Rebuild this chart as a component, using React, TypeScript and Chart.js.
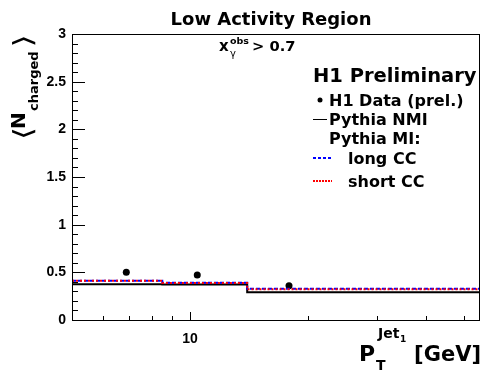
import React, { useEffect, useRef } from 'react';
import { Chart, registerables } from 'chart.js';
Chart.register(...registerables);

// ---- data ----
const binEdges = [5, 8.5, 14, 55];
const nmiValues = [0.374, 0.372, 0.292];
const longCCValues = [0.412, 0.391, 0.328];
const shortCCValues = [0.411, 0.389, 0.322];
const dataX = [6.88, 10.44, 17.9];
const dataY = [0.5, 0.472, 0.36];
const xLabelTicks = [10];
const xMinorTicks = [6, 7, 8, 9, 20, 30, 40, 50];
const yLabelTicks = [0, 0.5, 1, 1.5, 2, 2.5, 3];
const yMinorTicks = [0.1, 0.2, 0.3, 0.4, 0.6, 0.7, 0.8, 0.9, 1.1, 1.2, 1.3, 1.4, 1.6, 1.7, 1.8, 1.9, 2.1, 2.2, 2.3, 2.4, 2.6, 2.7, 2.8, 2.9];

const TICKFONT = '"Liberation Sans", Arial, Helvetica, sans-serif';
const FONT = '"DejaVu Sans", "Liberation Sans", sans-serif';

function stepPoints(values: number[]) {
  const pts = values.map((v, i) => ({ x: binEdges[i], y: v }));
  pts.push({ x: binEdges[binEdges.length - 1], y: values[values.length - 1] });
  return pts;
}

function text(ctx: any, s: string, x: number, y: number, size: number, align: CanvasTextAlign = 'left', weight = 'bold') {
  ctx.font = `${weight} ${size}px ${FONT}`;
  ctx.textAlign = align;
  ctx.textBaseline = 'alphabetic';
  ctx.fillStyle = '#000';
  ctx.fillText(s, x, y);
}

// draw a glyph stretched into a box (u0,v0,w,h) of the current frame
function boxGlyph(ctx: any, s: string, u0: number, v0: number, w: number, h: number) {
  ctx.font = `normal 24px ${FONT}`;
  ctx.textAlign = 'left';
  ctx.textBaseline = 'alphabetic';
  const m = ctx.measureText(s);
  const gw = m.actualBoundingBoxRight + m.actualBoundingBoxLeft;
  const gh = m.actualBoundingBoxAscent + m.actualBoundingBoxDescent;
  ctx.save();
  ctx.translate(u0, v0);
  ctx.scale(w / gw, h / gh);
  ctx.fillStyle = '#000';
  ctx.fillText(s, m.actualBoundingBoxLeft, m.actualBoundingBoxAscent);
  ctx.restore();
}

const decorPlugin = {
  id: 'decor',
  afterDatasetsDraw(chart: any) {
    const ctx = chart.ctx;
    const { left, right, top, bottom } = chart.chartArea;
    const xs = chart.scales.x;
    const ys = chart.scales.y;
    ctx.save();
    ctx.strokeStyle = '#000';
    ctx.lineWidth = 1;
    ctx.strokeRect(Math.round(left) + 0.5, Math.round(top) + 0.5, Math.round(right - left) - 1, Math.round(bottom - top));
    ctx.beginPath();
    yLabelTicks.forEach((v) => {
      const p = Math.round(ys.getPixelForValue(v)) + 0.5;
      ctx.moveTo(left, p); ctx.lineTo(left + 13, p);
    });
    yMinorTicks.forEach((v) => {
      const p = Math.round(ys.getPixelForValue(v)) + 0.5;
      ctx.moveTo(left, p); ctx.lineTo(left + 6, p);
    });
    xLabelTicks.forEach((v) => {
      const p = Math.round(xs.getPixelForValue(v)) + 0.5;
      ctx.moveTo(p, bottom); ctx.lineTo(p, bottom - 8);
    });
    xMinorTicks.forEach((v) => {
      const p = Math.round(xs.getPixelForValue(v)) + 0.5;
      ctx.moveTo(p, bottom); ctx.lineTo(p, bottom - 4);
    });
    ctx.stroke();
    ctx.restore();
  },
  afterDraw(chart: any) {
    const ctx = chart.ctx;
    ctx.save();
    // title
    text(ctx, 'Low Activity Region', 271, 25, 18, 'center');
    // x_gamma^obs > 0.7
    text(ctx, 'x', 219, 51, 15);
    text(ctx, 'obs', 230, 44, 9.5);
    text(ctx, 'γ', 230, 57, 10, 'left', 'normal');
    text(ctx, '> 0.7', 252, 51, 14.7);
    // legend header
    text(ctx, 'H1 Preliminary', 313, 82, 19.5);
    // legend entries
    ctx.fillStyle = '#000';
    ctx.beginPath();
    ctx.arc(320, 100, 2.5, 0, Math.PI * 2);
    ctx.fill();
    text(ctx, 'H1 Data (prel.)', 329, 106, 16);
    ctx.strokeStyle = '#000';
    ctx.lineWidth = 1;
    ctx.beginPath(); ctx.moveTo(313, 119.5); ctx.lineTo(327, 119.5); ctx.stroke();
    text(ctx, 'Pythia NMI', 329, 125, 16);
    text(ctx, 'Pythia MI:', 329, 144, 16);
    ctx.strokeStyle = '#0000ff';
    ctx.lineWidth = 2;
    ctx.setLineDash([3, 2]);
    ctx.beginPath(); ctx.moveTo(313, 158); ctx.lineTo(332, 158); ctx.stroke();
    text(ctx, 'long CC', 348, 164, 16);
    ctx.strokeStyle = '#ff0000';
    ctx.lineWidth = 2;
    ctx.setLineDash([2, 1]);
    ctx.beginPath(); ctx.moveTo(313, 181); ctx.lineTo(332, 181); ctx.stroke();
    ctx.setLineDash([]);
    text(ctx, 'short CC', 348, 187, 16);
    // x axis title
    text(ctx, 'P', 359, 361, 22);
    text(ctx, 'Jet', 378, 338, 14);
    text(ctx, '1', 400, 342, 9);
    text(ctx, 'T', 376, 370, 14);
    text(ctx, '[GeV]', 481, 361, 21, 'right');
    // y axis title (rotated)
    ctx.save();
    ctx.rotate(-Math.PI / 2);
    text(ctx, 'N', -129, 25, 20);
    text(ctx, 'charged', -111, 38, 13);
    boxGlyph(ctx, '⟨', -137, 11, 8, 25);
    boxGlyph(ctx, '⟩', -46, 11, 10, 25);
    ctx.restore();
    ctx.restore();
  },
};

export default function App() {
  const ref = useRef<HTMLCanvasElement>(null);
  useEffect(() => {
    document.body.style.margin = '0';
    const chart = new Chart(ref.current as HTMLCanvasElement, {
      type: 'line',
      data: {
        datasets: [
          {
            label: 'short CC',
            data: stepPoints(shortCCValues),
            stepped: 'before',
            borderColor: '#ff0000',
            borderWidth: 2,
            borderDash: [2, 2],
            pointRadius: 0,
            fill: false,
          },
          {
            label: 'long CC',
            data: stepPoints(longCCValues),
            stepped: 'before',
            borderColor: '#0000ff',
            borderWidth: 2,
            borderDash: [4, 2],
            pointRadius: 0,
            fill: false,
          },
          {
            label: 'Pythia NMI',
            data: stepPoints(nmiValues),
            stepped: 'before',
            borderColor: '#000',
            borderWidth: 2,
            pointRadius: 0,
            fill: false,
          },
          {
            label: 'H1 Data (prel.)',
            data: dataX.map((x, i) => ({ x, y: dataY[i] })),
            showLine: false,
            pointRadius: 3.5,
            pointStyle: 'circle',
            backgroundColor: '#000',
            borderColor: '#000',
            borderWidth: 0,
          },
        ],
      },
      options: {
        animation: false,
        responsive: false,
        devicePixelRatio: 1,
        layout: { padding: { top: 34, right: 11, left: 0, bottom: 0 } },
        plugins: { legend: { display: false }, tooltip: { enabled: false }, title: { display: false } },
        scales: {
          x: {
            type: 'logarithmic',
            min: 5,
            max: 55,
            grid: { display: false, drawTicks: false },
            border: { display: false },
            afterBuildTicks: (s: any) => { s.ticks = xLabelTicks.map((v) => ({ value: v })); },
            afterFit: (s: any) => { s.height = 54; },
            ticks: {
              autoSkip: false,
              maxRotation: 0,
              padding: 11,
              color: '#000',
              font: { family: TICKFONT, size: 14, weight: 'bold' },
              callback: (v: any) => String(v),
            },
          },
          y: {
            type: 'linear',
            min: 0,
            max: 3,
            grid: { display: false, drawTicks: false },
            border: { display: false },
            afterBuildTicks: (s: any) => { s.ticks = yLabelTicks.map((v) => ({ value: v })); },
            afterFit: (s: any) => { s.width = 72; },
            ticks: {
              padding: 6,
              color: '#000',
              font: { family: TICKFONT, size: 14, weight: 'bold' },
              callback: (v: any) => String(v),
            },
          },
        },
      },
      plugins: [decorPlugin],
    } as any);
    return () => chart.destroy();
  }, []);
  return <canvas ref={ref} width={491} height={374} style={{ display: 'block' }} />;
}
